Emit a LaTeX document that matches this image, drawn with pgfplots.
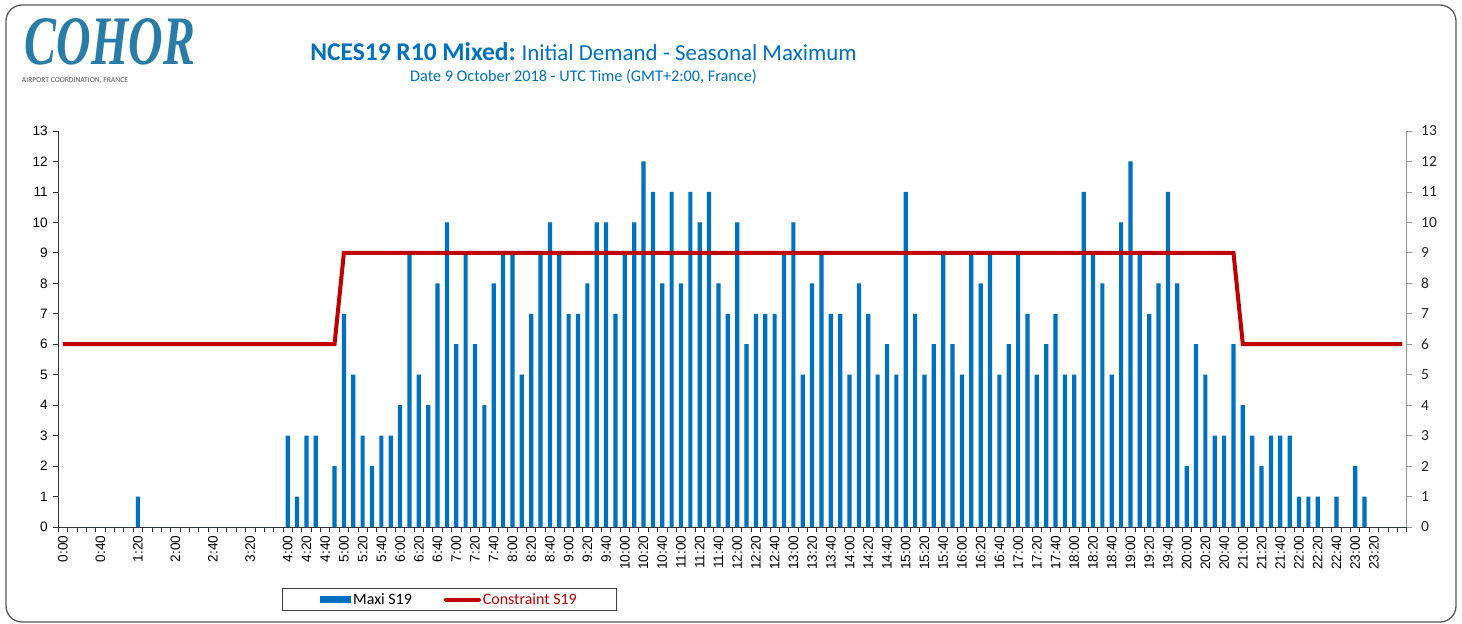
\documentclass[border=0pt]{standalone}
\usepackage{fontspec}
\setmainfont{Carlito}
\newfontfamily\arial{Liberation Sans}
\newfontfamily\logofont{Liberation Serif}
\usepackage{pgfplots}
\pgfplotsset{compat=1.18}
\usepackage{pgfplotstable}
\definecolor{barblue}{HTML}{0070C0}
\definecolor{cred}{HTML}{C00000}
\definecolor{logoblue}{HTML}{2A7CA8}
\definecolor{framegray}{HTML}{595959}

% Maxi S19: demand per 10-minute slot, slot i plotted at i+0.5
\pgfplotstableread{
x y
0.5 0
1.5 0
2.5 0
3.5 0
4.5 0
5.5 0
6.5 0
7.5 0
8.5 1
9.5 0
10.5 0
11.5 0
12.5 0
13.5 0
14.5 0
15.5 0
16.5 0
17.5 0
18.5 0
19.5 0
20.5 0
21.5 0
22.5 0
23.5 0
24.5 3
25.5 1
26.5 3
27.5 3
28.5 0
29.5 2
30.5 7
31.5 5
32.5 3
33.5 2
34.5 3
35.5 3
36.5 4
37.5 9
38.5 5
39.5 4
40.5 8
41.5 10
42.5 6
43.5 9
44.5 6
45.5 4
46.5 8
47.5 9
48.5 9
49.5 5
50.5 7
51.5 9
52.5 10
53.5 9
54.5 7
55.5 7
56.5 8
57.5 10
58.5 10
59.5 7
60.5 9
61.5 10
62.5 12
63.5 11
64.5 8
65.5 11
66.5 8
67.5 11
68.5 10
69.5 11
70.5 8
71.5 7
72.5 10
73.5 6
74.5 7
75.5 7
76.5 7
77.5 9
78.5 10
79.5 5
80.5 8
81.5 9
82.5 7
83.5 7
84.5 5
85.5 8
86.5 7
87.5 5
88.5 6
89.5 5
90.5 11
91.5 7
92.5 5
93.5 6
94.5 9
95.5 6
96.5 5
97.5 9
98.5 8
99.5 9
100.5 5
101.5 6
102.5 9
103.5 7
104.5 5
105.5 6
106.5 7
107.5 5
108.5 5
109.5 11
110.5 9
111.5 8
112.5 5
113.5 10
114.5 12
115.5 9
116.5 7
117.5 8
118.5 11
119.5 8
120.5 2
121.5 6
122.5 5
123.5 3
124.5 3
125.5 6
126.5 4
127.5 3
128.5 2
129.5 3
130.5 3
131.5 3
132.5 1
133.5 1
134.5 1
135.5 0
136.5 1
137.5 0
138.5 2
139.5 1
140.5 0
141.5 0
142.5 0
143.5 0
}\maxi

% Constraint S19
\pgfplotstableread{
x y
0.5 6
29.5 6
30.5 9
125.5 9
126.5 6
143.5 6
}\constraint

\begin{document}
\begin{tikzpicture}
\useasboundingbox (0,0) rectangle (1462bp,624bp);
\fill[white] (0,0) rectangle (1462bp,624bp);
\draw[framegray, line width=1.3bp, rounded corners=16bp] (6bp,2bp) rectangle (1456bp,619bp);

% logo
\node[logoblue, anchor=center, inner sep=0pt] at (110bp,582bp)
  {\resizebox{170bp}{46bp}{\logofont\bfseries\itshape COHOR}};
\node[framegray, anchor=center, inner sep=0pt] at (75bp,543bp)
  {\resizebox{106bp}{!}{\fontsize{7}{7}\selectfont AIRPORT COORDINATION, FRANCE}};

% titles
\node[barblue, anchor=center, inner sep=0pt] at (583.5bp,572bp)
  {{\fontsize{25.6}{26}\selectfont\bfseries NCES19 R10 Mixed:}\hspace{3bp} {\fontsize{23}{26}\selectfont Initial Demand - Seasonal Maximum}};
\node[barblue, anchor=center, inner sep=0pt] at (583.5bp,547bp)
  {\fontsize{16.3}{17}\selectfont Date 9 October 2018 - UTC Time (GMT+2:00, France)};

\begin{axis}[
  at={(58.3bp,97bp)}, anchor=south west,
  width=1348.4bp, height=396bp, scale only axis,
  xmin=0, xmax=144, ymin=0, ymax=13,
  axis x line*=bottom, axis y line*=left,
  axis line style={draw=black!80, line width=0.8bp},
  tick align=outside,
  major tick length=5bp, minor tick length=5bp,
  ytick={0,...,13},
  /pgf/number format/assume math mode=true,
  yticklabel style={font=\arial\fontsize{13.7}{14}\selectfont, xshift=-2bp},
  xtick={0.5,4.5,...,20.5,24.5,26.5,...,140.5},
  xticklabels={0:00,0:40,1:20,2:00,2:40,3:20,4:00,4:20,4:40,5:00,5:20,5:40,6:00,6:20,6:40,7:00,7:20,7:40,8:00,8:20,8:40,9:00,9:20,9:40,10:00,10:20,10:40,11:00,11:20,11:40,12:00,12:20,12:40,13:00,13:20,13:40,14:00,14:20,14:40,15:00,15:20,15:40,16:00,16:20,16:40,17:00,17:20,17:40,18:00,18:20,18:40,19:00,19:20,19:40,20:00,20:20,20:40,21:00,21:20,21:40,22:00,22:20,22:40,23:00,23:20},
  xticklabel style={rotate=90, anchor=east, font=\arial\fontsize{13.7}{14}\selectfont},
  major x tick style={draw=none},
  minor xtick={0,1,...,144},
  minor x tick style={draw=black!80, line width=0.8bp},
  ytick style={draw=black!80, line width=0.8bp},
  legend columns=2,
  legend style={at={(axis description cs:0.2901,-0.1831)}, anchor=center,
    draw=black!75, line width=0.8bp, font=\fontsize{16}{16}\selectfont,
    inner xsep=38bp, inner ysep=3bp,
    /tikz/every even column/.append style={column sep=30bp}},
  clip=false,
]
\addplot[ybar, bar width=4.2bp, fill=barblue, draw=none,
  legend image code/.code={\fill[barblue] (0bp,-3.5bp) rectangle (31bp,3.5bp);}]
  table[x=x, y=y] {\maxi};
\addlegendentry{Maxi S19}
\addplot[cred, line width=4bp, mark=none,
  legend image code/.code={\draw[cred, line width=4bp, line cap=round] (1bp,0bp) -- (34bp,0bp);}]
  table[x=x, y=y] {\constraint};
\addlegendentry{\textcolor{cred}{Constraint S19}}
\end{axis}

\begin{axis}[
  at={(58.3bp,97bp)}, anchor=south west,
  width=1348.4bp, height=396bp, scale only axis,
  xmin=0, xmax=144, ymin=0, ymax=13,
  axis x line=none, axis y line*=right,
  y axis line style={draw=black!40, line width=0.8bp},
  tick align=outside, major tick length=5bp,
  ytick={0,...,13},
  ytick style={draw=black!40, line width=0.8bp},
  /pgf/number format/assume math mode=true,
  yticklabel style={font=\fontsize{15.5}{16}\selectfont, xshift=6bp, text=black!85},
]
\addplot[draw=none] coordinates {(0,0)};
\end{axis}
\end{tikzpicture}
\end{document}
